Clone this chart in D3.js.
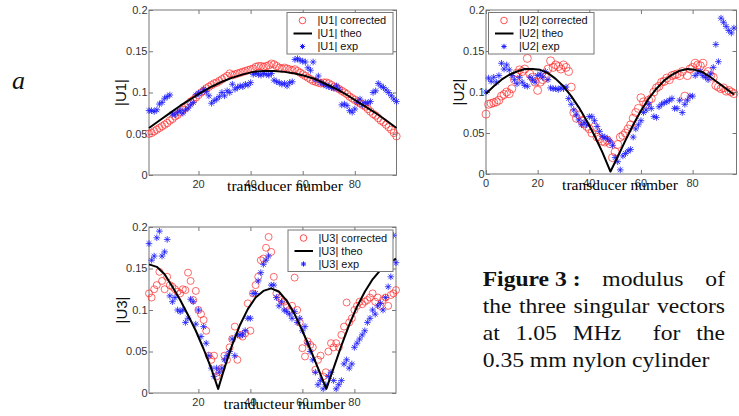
<!DOCTYPE html>
<html>
<head>
<meta charset="utf-8">
<script src="https://cdn.jsdelivr.net/npm/d3@7"></script>
<style>
  body { margin: 0; background: #fff; }
  svg { display: block; }
  .tick-label { font-family: "Liberation Sans", Arial, sans-serif; font-size: 11px; fill: #333; }
  .legend-text { font-family: "Liberation Sans", Arial, sans-serif; font-size: 11px; fill: #111; }
  .ylab { font-family: "Liberation Sans", Arial, sans-serif; font-size: 15px; fill: #111; }
  .xlab { font-family: "Liberation Serif", "Times New Roman", serif; font-size: 15.5px; fill: #000; }
  .caption { font-family: "Liberation Serif", "Times New Roman", serif; font-size: 20px; fill: #111; }
  .letter { font-family: "Liberation Serif", "Times New Roman", serif; font-style: italic; font-size: 26px; fill: #111; }
</style>
</head>
<body>
<svg id="fig" width="739" height="416"></svg>
<script>
// ---- data ----
var u1Corrected = [0.050,0.051,0.053,0.055,0.057,0.059,0.061,0.063,0.066,0.068,0.071,0.073,0.076,0.079,0.082,0.086,0.089,0.091,0.094,0.097,
  0.100,0.102,0.105,0.107,0.109,0.111,0.112,0.114,0.116,0.118,0.120,0.123,0.121,0.122,0.123,0.124,0.125,0.126,0.127,0.128,
  0.129,0.131,0.132,0.132,0.131,0.132,0.133,0.135,0.134,0.132,0.130,0.129,0.130,0.129,0.128,0.127,0.128,0.126,0.124,0.122,
  0.120,0.118,0.116,0.114,0.113,0.112,0.111,0.112,0.112,0.111,0.109,0.107,0.106,0.104,0.102,0.100,0.098,0.095,0.093,0.091,
  0.089,0.087,0.085,0.083,0.080,0.077,0.074,0.072,0.069,0.066,0.064,0.061,0.058,0.055,0.051,0.047];
var u1Exp = [0.078,0.078,0.077,0.079,0.086,0.088,0.093,0.095,0.097,0.074,0.073,0.076,0.078,0.075,0.079,0.081,0.085,0.088,0.097,0.099,
  0.100,0.104,0.101,0.096,0.087,0.090,0.092,0.095,0.100,0.096,0.102,0.100,0.110,0.104,0.106,0.108,0.107,0.110,0.109,0.112,
  0.122,0.123,0.122,0.121,0.123,0.122,0.121,0.123,0.115,0.113,0.112,0.110,0.111,0.108,0.112,0.113,0.140,0.141,0.139,0.138,
  0.137,0.130,0.127,0.137,0.115,0.120,0.112,0.110,0.108,0.107,0.106,0.105,0.108,0.104,0.085,0.086,0.084,0.078,0.076,0.080,
  0.088,0.092,0.085,0.088,0.087,0.089,0.100,0.102,0.111,0.108,0.106,0.103,0.100,0.096,0.092,0.089];
var u1TheoX = [1,5,9,13,17,21,25,29,33,37,41,45,49,53,57,61,65,69,73,77,81,85,89,93,96];
var u1TheoY = [0.057,0.066,0.075,0.084,0.092,0.100,0.107,0.113,0.118,0.122,0.125,0.126,0.126,0.125,0.123,0.120,0.116,0.110,0.104,0.097,
  0.089,0.081,0.073,0.064,0.057];

var u2Corrected = [0.073,0.085,0.086,0.087,0.088,0.090,0.095,0.097,0.100,0.098,0.104,0.115,0.123,0.127,0.125,0.128,0.141,0.122,0.118,0.112,
  0.102,0.112,0.115,0.118,0.128,0.138,0.130,0.133,0.131,0.128,0.133,0.130,0.125,0.106,0.075,0.068,0.072,0.065,0.061,0.058,
  0.055,0.050,0.057,0.045,0.043,0.040,0.039,0.041,0.037,0.020,0.027,0.036,0.045,0.047,0.050,0.055,0.060,0.068,0.075,0.080,
  0.093,0.088,0.085,0.090,0.092,0.100,0.105,0.107,0.112,0.113,0.117,0.115,0.120,0.121,0.122,0.120,0.125,0.095,0.120,0.128,
  0.130,0.135,0.133,0.132,0.135,0.122,0.125,0.120,0.118,0.108,0.106,0.104,0.105,0.101,0.102,0.100,0.098];
var u2Exp = [0.100,0.117,0.113,0.118,0.112,0.120,0.135,0.128,0.133,0.127,0.120,0.115,0.110,0.118,0.112,0.108,0.107,0.118,0.115,0.112,
  0.120,0.122,0.118,0.125,0.115,0.105,0.104,0.104,0.103,0.105,0.104,0.106,0.092,0.085,0.078,0.072,0.066,0.060,0.063,0.060,
  0.070,0.070,0.065,0.058,0.052,0.046,0.045,0.043,0.040,0.035,0.020,0.015,0.005,0.022,0.025,0.028,0.030,0.045,0.055,0.060,
  0.065,0.075,0.078,0.085,0.080,0.070,0.069,0.082,0.085,0.087,0.088,0.090,0.092,0.080,0.080,0.090,0.075,0.085,0.090,0.095,
  0.095,0.120,0.123,0.125,0.120,0.118,0.115,0.122,0.130,0.158,0.137,0.190,0.185,0.180,0.175,0.172,0.178];
var u2TheoX = [0,3,6,9,12,15,18,21,24,27,30,33,36,39,42,45,48.2,51,54,57,60,63,66,69,72,75,78,81,84,87,90,93,96];
var u2TheoY = [0.098,0.107,0.115,0.121,0.125,0.128,0.128,0.127,0.123,0.116,0.107,0.095,0.081,0.065,0.047,0.027,0.003,0.021,0.041,0.060,
  0.077,0.092,0.104,0.114,0.121,0.126,0.128,0.127,0.124,0.118,0.111,0.104,0.097];

var u3Corrected = [0.120,0.115,0.125,0.130,0.146,0.135,0.125,0.140,0.130,0.128,0.125,0.122,0.120,0.125,0.124,0.145,0.135,0.112,0.123,0.100,
  0.095,0.088,0.075,0.045,0.040,0.045,0.020,0.025,0.030,0.045,0.040,0.055,0.065,0.080,0.040,0.070,0.068,0.072,0.108,0.075,
  0.120,0.130,0.140,0.160,0.162,0.175,0.188,0.170,0.140,0.120,0.115,0.112,0.110,0.105,0.100,0.105,0.139,0.100,0.085,0.054,
  0.044,0.062,0.058,0.055,0.028,0.040,0.045,0.020,0.025,0.050,0.060,0.055,0.060,0.055,0.070,0.080,0.109,0.085,0.090,0.100,
  0.105,0.110,0.107,0.110,0.112,0.115,0.120,0.110,0.115,0.105,0.112,0.115,0.105,0.118,0.120,0.124];
var u3Exp = [0.180,0.160,0.165,0.187,0.195,0.165,0.170,0.185,0.117,0.110,0.115,0.100,0.098,0.100,0.085,0.090,0.113,0.110,0.083,0.100,
  0.068,0.080,0.060,0.045,0.030,0.020,0.030,0.025,0.030,0.040,0.045,0.050,0.065,0.045,0.070,0.070,0.070,0.075,0.090,0.090,
  0.120,0.120,0.135,0.145,0.155,0.160,0.165,0.130,0.130,0.115,0.105,0.110,0.100,0.098,0.095,0.090,0.098,0.085,0.090,0.075,
  0.080,0.060,0.050,0.040,0.025,0.010,0.015,0.005,0.010,0.020,0.025,0.015,0.005,0.010,0.015,0.035,0.040,0.030,0.035,0.055,
  0.060,0.065,0.070,0.075,0.085,0.090,0.100,0.095,0.105,0.108,0.100,0.115,0.128,0.140,0.190,0.157];
var u3TheoX = [1,4,7,10,13,16,19,22,25,27.6,30,33,36,39,42,45,48,51,54,57,60,63,66,69.2,72,75,78,81,84,87,90,93,96];
var u3TheoY = [0.155,0.152,0.143,0.128,0.112,0.094,0.075,0.053,0.029,0.005,0.030,0.058,0.082,0.101,0.115,0.123,0.126,0.122,0.111,0.095,
  0.075,0.053,0.030,0.005,0.030,0.057,0.082,0.104,0.122,0.137,0.148,0.156,0.162];

var yTicks = [0, 0.05, 0.1, 0.15, 0.2];
var yTickLabels = ["0", "0.05", "0.1", "0.15", "0.2"];

var captionLines = [
  [{t: "Figure 3 :", b: true}, {t: "modulus"}, {t: "of"}],
  [{t: "the"}, {t: "three"}, {t: "singular"}, {t: "vectors"}],
  [{t: "at"}, {t: "1.05"}, {t: "MHz"}, {t: ""}, {t: "for"}, {t: "the"}],
  [{t: "0.35 mm nylon cylinder"}]
];

var svg = d3.select("#fig");

function starPath(r){
  var d = r * 0.72;
  return "M" + (-r) + ",0h" + (2 * r) + "M0," + (-r) + "v" + (2 * r) +
    "M" + (-d) + "," + (-d) + "l" + (2 * d) + "," + (2 * d) +
    "M" + (-d) + "," + d + "l" + (2 * d) + "," + (-2 * d);
}

function panel(o){
  var x = d3.scaleLinear().domain(o.xDomain).range([o.left, o.right]);
  var y = d3.scaleLinear().domain([0, 0.2]).range([o.bottom, o.top]);
  var g = svg.append("g");

  // frame with inward ticks on all sides
  g.append("rect")
      .attr("x", o.left).attr("y", o.top)
      .attr("width", o.right - o.left).attr("height", o.bottom - o.top)
      .attr("fill", "#fff").attr("stroke", "#777").attr("stroke-width", 1);

  var axB = d3.axisBottom(x).tickValues(o.xTicks).tickSize(-4).tickFormat("");
  var axT = d3.axisTop(x).tickValues(o.xTicks).tickSize(-4).tickFormat("");
  var axL = d3.axisLeft(y).tickValues(yTicks).tickSize(-4).tickFormat("");
  var axR = d3.axisRight(y).tickValues(yTicks).tickSize(-4).tickFormat("");
  [[axB, "translate(0," + o.bottom + ")"], [axT, "translate(0," + o.top + ")"],
   [axL, "translate(" + o.left + ",0)"], [axR, "translate(" + o.right + ",0)"]].forEach(function(a){
    var s = g.append("g").attr("transform", a[1]).call(a[0]);
    s.select(".domain").remove();
    s.selectAll("line").attr("stroke", "#777");
  });

  g.selectAll(".xtl").data(o.xTicks).enter().append("text")
      .attr("class", "tick-label")
      .attr("x", function(d){ return x(d); })
      .attr("y", o.bottom + 13)
      .attr("text-anchor", "middle")
      .text(function(d){ return d; });

  g.selectAll(".ytl").data(yTicks).enter().append("text")
      .attr("class", "tick-label")
      .attr("x", o.left - 1.5)
      .attr("y", function(d){ return y(d); })
      .attr("dy", "0.35em")
      .attr("text-anchor", "end")
      .text(function(d, i){ return yTickLabels[i]; });

  // data
  var xs = o.corrected.map(function(d, i){ return o.x0 + i; });

  g.selectAll(".corr").data(o.corrected).enter().append("circle")
      .attr("cx", function(d, i){ return x(xs[i]); })
      .attr("cy", function(d){ return y(d); })
      .attr("r", o.r)
      .attr("fill", "none")
      .attr("stroke", "#f22")
      .attr("stroke-opacity", 0.85)
      .attr("stroke-width", 0.8);

  g.selectAll(".exp").data(o.exp).enter().append("path")
      .attr("transform", function(d, i){ return "translate(" + x(xs[i]) + "," + y(d) + ")"; })
      .attr("d", starPath(3.3))
      .attr("fill", "none")
      .attr("stroke", "#1a1aff")
      .attr("stroke-opacity", 0.8)
      .attr("stroke-width", 1);

  var line = d3.line()
      .x(function(d, i){ return x(o.theoX[i]); })
      .y(function(d){ return y(d); });
  g.append("path")
      .attr("d", line(o.theoY))
      .attr("fill", "none")
      .attr("stroke", "#000")
      .attr("stroke-width", 2)
      .attr("stroke-linejoin", "round");

  // legend
  var lg = g.append("g").attr("transform", "translate(" + o.legend[0] + "," + o.legend[1] + ")");
  lg.append("rect").attr("width", o.legend[2]).attr("height", 41.5)
      .attr("fill", "#fff").attr("stroke", "#777");
  lg.append("circle").attr("cx", 15.5).attr("cy", 8).attr("r", 3.3)
      .attr("fill", "none").attr("stroke", "#f22").attr("stroke-width", 0.8);
  lg.append("line").attr("x1", 6.5).attr("x2", 25).attr("y1", 21).attr("y2", 21)
      .attr("stroke", "#000").attr("stroke-width", 2);
  lg.append("path").attr("transform", "translate(15.5,34)").attr("d", starPath(2.6))
      .attr("fill", "none").attr("stroke", "#1a1aff").attr("stroke-width", 1);
  ["corrected", "theo", "exp"].forEach(function(t, i){
    lg.append("text").attr("class", "legend-text")
        .attr("x", 30.5).attr("y", 8 + i * 13).attr("dy", "0.35em")
        .text("|" + o.name + "| " + t);
  });

  g.append("text").attr("class", "ylab")
      .attr("transform", "translate(" + o.ylabX + "," + ((o.top + o.bottom) / 2) + ") rotate(-90)")
      .attr("text-anchor", "middle")
      .text("|" + o.name + "|");

  g.append("text").attr("class", "xlab")
      .attr("x", o.xlabX).attr("y", o.bottom + 16)
      .attr("text-anchor", "middle")
      .text(o.xlab);
}

panel({name: "U1", left: 149, right: 396.5, top: 10, bottom: 175, xDomain: [1, 96], xTicks: [20, 40, 60, 80],
  x0: 1, corrected: u1Corrected, exp: u1Exp, theoX: u1TheoX, theoY: u1TheoY, r: 3.7,
  legend: [287, 12.5, 106], ylabX: 126, xlabX: 285, xlab: "transducer number"});
panel({name: "U2", left: 486, right: 736.5, top: 10, bottom: 174, xDomain: [0, 97], xTicks: [0, 20, 40, 60, 80],
  x0: 0, corrected: u2Corrected, exp: u2Exp, theoX: u2TheoX, theoY: u2TheoY, r: 4,
  legend: [488.5, 12.5, 105.5], ylabX: 464, xlabX: 620, xlab: "transducer number"});
panel({name: "U3", left: 149, right: 396, top: 227, bottom: 393, xDomain: [1, 96], xTicks: [20, 40, 60, 80],
  x0: 1, corrected: u3Corrected, exp: u3Exp, theoX: u3TheoX, theoY: u3TheoY, r: 3.5,
  legend: [288, 230, 105], ylabX: 127, xlabX: 284.5, xlab: "tranducteur number"});

// panel letter
svg.append("text")
    .attr("class", "letter")
    .attr("x", 12).attr("y", 89)
    .text("a");

// caption, justified between two edges
var capLeft = 482.7, capRight = 725, capTop = 286, capLead = 27;
var cap = svg.append("g").attr("transform", "translate(" + capLeft + ",0) scale(1.18,1)");
var capW = (capRight - capLeft) / 1.18;
captionLines.forEach(function(words, li){
  var nodes = words.map(function(w){
    return cap.append("text").attr("class", "caption")
      .attr("y", capTop + li * capLead)
      .attr("font-weight", w.b ? "bold" : null)
      .text(w.t);
  });
  var widths = nodes.map(function(n){ return n.node().getComputedTextLength(); });
  var gap = nodes.length > 1 && li < captionLines.length - 1
    ? (capW - d3.sum(widths)) / (nodes.length - 1) : 0;
  var cx = 0;
  nodes.forEach(function(n, i){
    n.attr("x", cx);
    cx += widths[i] + gap;
  });
});
</script>
</body>
</html>
